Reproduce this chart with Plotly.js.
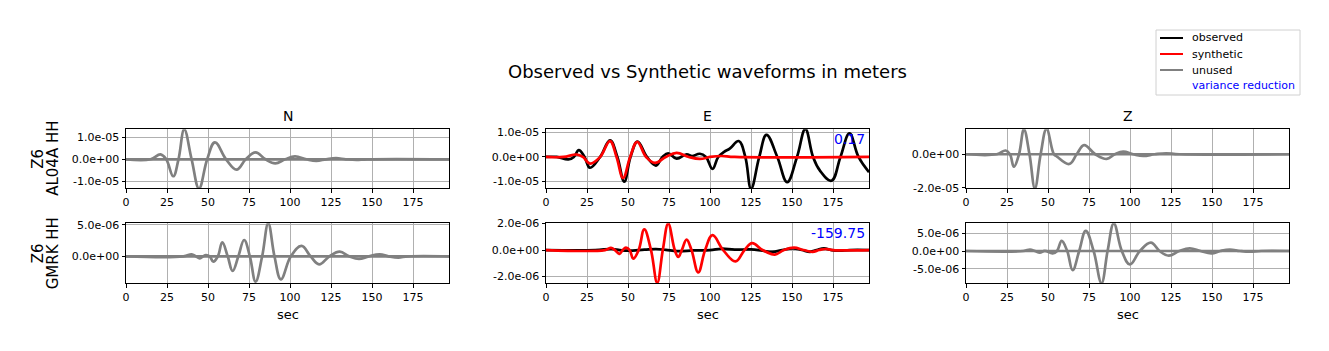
<!DOCTYPE html>
<html>
<head>
<meta charset="utf-8">
<script src="https://cdn.plot.ly/plotly-3.0.1.min.js"></script>
<style>html,body{margin:0;padding:0;background:#fff}#chart{width:1329px;height:351px}</style>
</head>
<body>
<div id="chart"></div>
<script>
// ---------------- data ----------------
const chartTitle = 'Observed vs Synthetic waveforms in meters';
const componentNames = ['N', 'E', 'Z'];
const networkName = 'Z6';
const stationNames = ['AL04A HH', 'GMRK HH'];
const legendNames = ['observed', 'synthetic', 'unused', 'variance reduction'];
const varianceReduction = ['0.17', '-159.75'];
const xLabel = 'sec';
const timeRange = [0, 196.9];
const xTickVals = [0, 25, 50, 75, 100, 125, 150, 175];
const xTickText = ['0', '25', '50', '75', '100', '125', '150', '175'];

// AL04A N (unused)
const al04aN_t = [0, 15, 21, 24.5, 28.8, 32, 35.5, 40, 44.5, 49.5, 54.2, 61, 67.4, 73, 79, 85, 91, 97, 103, 110, 116, 122, 128, 134, 140.5, 147, 196.9];
const al04aN_obs = [0, 0, 0.22e-5, 0, -0.76e-5, 0, 1.34e-5, 0, -1.31e-5, 0, 0.76e-5, 0, -0.46e-5, 0, 0.31e-5, 0, -0.18e-5, 0, 0.13e-5, 0, -0.07e-5, 0, 0.05e-5, 0, -0.03e-5, 0, 0];
const al04aN_syn_t = [0, 196.9];
const al04aN_syn = [0, 0];

// AL04A E (used)
const al04aE_obs_t = [0, 6.5, 13.6, 17, 20, 23.5, 26.8, 33, 39, 43.5, 47.7, 51.5, 55.8, 61.5, 67, 71, 74.5, 79.6, 85.7, 89, 93.8, 97.5, 101.5, 105, 108.6, 112, 117.5, 121.5, 125, 130, 134.4, 141, 147, 153, 158.1, 162.8, 166.9, 174, 179.5, 185, 190.5, 196.9];
const al04aE_obs = [0, 0, -0.1e-5, 0, 0.28e-5, 0, -0.44e-5, 0, 0.68e-5, 0, -1.01e-5, 0, 0.63e-5, 0, -0.35e-5, 0, 0.15e-5, -0.07e-5, 0.11e-5, 0.04e-5, 0.13e-5, 0, -0.49e-5, 0, 0.21e-5, 0.34e-5, 0.65e-5, 0, -1.30e-5, 0, 0.90e-5, 0, -1.03e-5, 0, 1.14e-5, 0, -0.55e-5, -0.97e-5, 0, 0.96e-5, 0, -0.62e-5];
const al04aE_syn_t = [0, 10.6, 18.7, 22.5, 26.8, 33, 39, 43, 47, 51.3, 55.6, 61, 66.4, 73, 79.6, 87, 93.8, 100, 107, 115, 196.9];
const al04aE_syn = [0, 0, 0.1e-5, 0, -0.27e-5, 0, 0.65e-5, 0, -0.86e-5, 0, 0.62e-5, 0, -0.24e-5, 0, 0.17e-5, 0, -0.08e-5, 0, 0.04e-5, 0, 0];

// AL04A Z (unused)
const al04aZ_t = [0, 18.7, 24.2, 26.8, 29.2, 32.3, 35.3, 38.7, 42, 45.5, 49.1, 53.6, 55.5, 62.9, 67.5, 72, 78.8, 85.7, 90.7, 95.8, 102, 108, 115, 122, 130, 196.9];
const al04aZ_obs = [0, 0, 0.22e-5, 0, -0.74e-5, 0, 1.48e-5, 0, -2.02e-5, 0, 1.5e-5, 0, -0.14e-5, -0.58e-5, 0, 0.54e-5, 0, -0.28e-5, 0, 0.16e-5, 0, -0.1e-5, 0, 0.06e-5, 0, 0];
const al04aZ_syn_t = [0, 196.9];
const al04aZ_syn = [0, 0];

// GMRK N (unused)
const gmrkN_t = [0, 35, 40, 42.5, 45, 47, 48.7, 51, 53.2, 56, 58.7, 62, 65, 68.5, 72, 75.5, 79, 83, 86.7, 90.5, 94.4, 100.5, 107, 112.5, 117.7, 124, 130.3, 136, 142, 148, 154.7, 160, 166, 172, 196.9];
const gmrkN_syn = [0, 0, 0.32e-6, 0, -0.32e-6, 0, 0.2e-6, 0, -0.85e-6, 0, 2.23e-6, 0, -2.34e-6, 0, 2.6e-6, 0, -4.04e-6, 0, 5.27e-6, 0, -3.67e-6, 0, 1.65e-6, 0, -1.28e-6, 0, 0.74e-6, 0, -0.43e-6, 0, 0.32e-6, 0, -0.2e-6, 0, 0];
const gmrkN_obs_t = [0, 196.9];
const gmrkN_obs = [0, 0];

// GMRK E (used)
const gmrkE_obs_t = [0, 30, 40, 45, 50, 60, 67, 73, 80, 90, 100, 107, 115, 125, 132, 138, 144, 150.6, 156, 161, 165, 169.5, 174, 179, 185, 196.9];
const gmrkE_obs = [0, 0, 0.08e-6, 0, -0.05e-6, 0.03e-6, 0.08e-6, 0.02e-6, -0.08e-6, -0.03e-6, 0, 0.1e-6, 0.03e-6, 0.05e-6, -0.05e-6, -0.13e-6, 0, 0.13e-6, 0, -0.13e-6, 0, 0.13e-6, 0, -0.05e-6, 0, 0];
const gmrkE_syn_t = [0, 36, 39.6, 42, 44.7, 46.8, 48.7, 51, 53.2, 56.5, 59.9, 64, 67.8, 71.2, 74.5, 78.5, 80.6, 82.8, 85.7, 88.7, 92.8, 97, 101.5, 108, 115.5, 121, 125.7, 132, 139.5, 145, 151.2, 157, 162.4, 166.5, 170.5, 175, 196.9];
const gmrkE_syn = [0, 0, 0.16e-6, 0, -0.29e-6, 0, 0.18e-6, 0, -0.65e-6, 0, 1.56e-6, 0, -2.47e-6, 0, 2.0e-6, 0, -0.52e-6, 0, 0.78e-6, 0, -1.69e-6, 0, 1.12e-6, 0, -0.86e-6, 0, 0.52e-6, 0, -0.34e-6, 0, 0.18e-6, 0, -0.13e-6, 0, 0.08e-6, 0, 0];

// GMRK Z (unused)
const gmrkZ_t = [0, 35, 39, 42, 45, 48, 52.8, 55.5, 58.3, 61.7, 65, 69, 73, 77.8, 82.6, 86.3, 90.1, 95, 99.9, 106, 112.7, 118, 123.6, 130, 136.4, 143, 149.6, 155, 160.8, 167, 173, 180, 196.9];
const gmrkZ_syn = [0, 0, 0.38e-6, 0, -0.47e-6, 0.05e-6, -0.66e-6, 0, 2.83e-6, 0, -5.38e-6, 0, 5.66e-6, 0, -9.05e-6, 0, 7.75e-6, 0, -3.77e-6, 0, 2.36e-6, 0, -1.32e-6, 0, 0.75e-6, 0, -0.66e-6, 0, 0.38e-6, 0, -0.19e-6, 0, 0];
const gmrkZ_obs_t = [0, 196.9];
const gmrkZ_obs = [0, 0];

// y-axis ranges and ticks per panel (row-major: AL04A N,E,Z ; GMRK N,E,Z)
const yRanges = [[-1.30e-5, 1.345e-5], [-1.28e-5, 1.13e-5], [-2.02e-5, 1.48e-5],
                 [-4.31e-6, 5.27e-6], [-2.51e-6, 2.02e-6], [-9.07e-6, 7.78e-6]];
const yTickVals = [[-1e-5, 0, 1e-5], [-1e-5, 0, 1e-5], [-2e-5, 0],
                   [0, 5e-6], [-2e-6, 0, 2e-6], [-5e-6, 0, 5e-6]];
const yTickText = [['-1.0e-05', '0.0e+00', '1.0e-05'], ['-1.0e-05', '0.0e+00', '1.0e-05'], ['-2.0e-05', '0.0e+00'],
                   ['0.0e+00', '5.0e-06'], ['-2.0e-06', '0.0e+00', '2.0e-06'], ['-5.0e-06', '0.0e+00', '5.0e-06']];

// ---------------- styling / layout ----------------
const W = 1329, H = 351;
const FONT = 'DejaVu Sans, Liberation Sans, sans-serif';
const px = x => x / W;
const py = y => 1 - y / H;
const colLeft = [126, 546, 966];
const colWidth = 323;
const rowTop = [129.3, 223.3];
const rowHeight = [59, 60];
const COLORS = {observed: 'black', synthetic: '#ff0000', unused: '#808080'};
const LW = 2.7;

function tr(ax, t, v, color) {
  return {x: t, y: v, xaxis: 'x' + (ax === 1 ? '' : ax), yaxis: 'y' + (ax === 1 ? '' : ax),
          type: 'scatter', mode: 'lines', line: {color: color, width: LW, shape: 'spline', smoothing: 1.15},
          hoverinfo: 'skip', showlegend: false};
}

const traces = [
  tr(1, al04aN_syn_t, al04aN_syn, COLORS.unused),
  tr(1, al04aN_t, al04aN_obs, COLORS.unused),
  tr(2, al04aE_obs_t, al04aE_obs, COLORS.observed),
  tr(2, al04aE_syn_t, al04aE_syn, COLORS.synthetic),
  tr(3, al04aZ_syn_t, al04aZ_syn, COLORS.unused),
  tr(3, al04aZ_t, al04aZ_obs, COLORS.unused),
  tr(4, gmrkN_obs_t, gmrkN_obs, COLORS.unused),
  tr(4, gmrkN_t, gmrkN_syn, COLORS.unused),
  tr(5, gmrkE_obs_t, gmrkE_obs, COLORS.observed),
  tr(5, gmrkE_syn_t, gmrkE_syn, COLORS.synthetic),
  tr(6, gmrkZ_obs_t, gmrkZ_obs, COLORS.unused),
  tr(6, gmrkZ_t, gmrkZ_syn, COLORS.unused)
];

const layout = {
  width: W, height: H,
  margin: {l: 0, r: 0, t: 0, b: 0},
  paper_bgcolor: 'white', plot_bgcolor: 'white',
  font: {family: FONT, color: 'black'},
  showlegend: false,
  annotations: [], shapes: []
};

const axisCommon = {
  showline: true, mirror: true, linecolor: 'black', linewidth: 1,
  ticks: 'outside', ticklen: 3.5, tickwidth: 1, tickcolor: 'black',
  showgrid: true, gridcolor: '#b0b0b0', gridwidth: 1, zeroline: false,
  tickfont: {family: FONT, size: 11, color: 'black'}, fixedrange: true
};

for (let r = 0; r < 2; r++) {
  for (let c = 0; c < 3; c++) {
    const i = r * 3 + c;
    const n = i + 1;
    const suffix = n === 1 ? '' : n;
    const x0 = colLeft[c], x1 = colLeft[c] + colWidth;
    const yTop = rowTop[r], yBot = rowTop[r] + rowHeight[r];
    layout['xaxis' + suffix] = Object.assign({}, axisCommon, {
      domain: [px(x0), px(x1)], anchor: 'y' + suffix,
      range: timeRange, tickmode: 'array', tickvals: xTickVals, ticktext: xTickText
    });
    layout['yaxis' + suffix] = Object.assign({}, axisCommon, {
      domain: [py(yBot), py(yTop)], anchor: 'x' + suffix,
      range: yRanges[i], tickmode: 'array', tickvals: yTickVals[i], ticktext: yTickText[i]
    });
  }
}

// column titles and x labels
componentNames.forEach((name, c) => {
  layout.annotations.push({xref: 'paper', yref: 'paper', x: px(colLeft[c] + colWidth / 2), y: py(116),
    xanchor: 'center', yanchor: 'middle', showarrow: false, text: name,
    font: {family: FONT, size: 14, color: 'black'}});
  layout.annotations.push({xref: 'paper', yref: 'paper', x: px(colLeft[c] + colWidth / 2), y: py(314),
    xanchor: 'center', yanchor: 'middle', showarrow: false, text: xLabel,
    font: {family: FONT, size: 13, color: 'black'}});
});

// row labels
stationNames.forEach((st, r) => {
  const yc = rowTop[r] + rowHeight[r] / 2;
  layout.annotations.push({xref: 'paper', yref: 'paper', x: px(38), y: py(yc), xanchor: 'center', yanchor: 'middle',
    showarrow: false, textangle: -90, text: networkName, font: {family: FONT, size: 15, color: 'black'}});
  layout.annotations.push({xref: 'paper', yref: 'paper', x: px(53), y: py(yc), xanchor: 'center', yanchor: 'middle',
    showarrow: false, textangle: -90, text: st, font: {family: FONT, size: 15, color: 'black'}});
});

// variance reduction values (E column)
varianceReduction.forEach((vr, r) => {
  layout.annotations.push({xref: 'paper', yref: 'paper', x: px(867), y: py(rowTop[r] + 9.7),
    xanchor: 'right', yanchor: 'middle', showarrow: false, text: vr,
    font: {family: FONT, size: 14, color: '#0000ff'}});
});

// main title
layout.annotations.push({xref: 'paper', yref: 'paper', x: px(707), y: py(72), xanchor: 'center', yanchor: 'middle',
  showarrow: false, text: chartTitle, font: {family: FONT, size: 18, color: 'black'}});

// legend (drawn manually)
layout.shapes.push({type: 'path', xref: 'paper', yref: 'paper',
  path: (() => {
    const l = px(1156), rr = px(1300), t = py(30), b = py(95);
    return `M ${l} ${b} L ${rr} ${b} L ${rr} ${t} L ${l} ${t} Z`;
  })(),
  line: {color: '#d0d0d0', width: 1}, fillcolor: 'white', layer: 'above'});
const legendColors = [COLORS.observed, COLORS.synthetic, COLORS.unused];
legendNames.forEach((name, k) => {
  const yy = 38 + 16 * k;
  if (k < 3) {
    layout.shapes.push({type: 'line', xref: 'paper', yref: 'paper', x0: px(1160), x1: px(1183), y0: py(yy), y1: py(yy),
      line: {color: legendColors[k], width: 2}, layer: 'above'});
  }
  layout.annotations.push({xref: 'paper', yref: 'paper', x: px(1190), y: py(yy), xanchor: 'left', yanchor: 'middle',
    showarrow: false, text: name, font: {family: FONT, size: 11, color: k < 3 ? 'black' : '#0000ff'}});
});

Plotly.newPlot('chart', traces, layout, {staticPlot: true, displayModeBar: false});
</script>
</body>
</html>
